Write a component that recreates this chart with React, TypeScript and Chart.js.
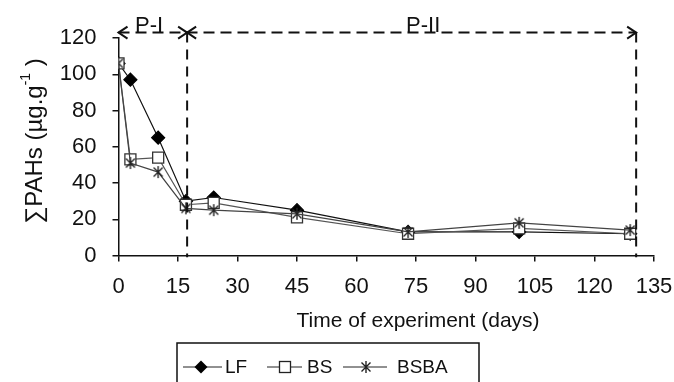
import React, { useEffect, useRef } from "react";
import { Chart, registerables } from "chart.js";

Chart.register(...registerables);

const DAYS = [0, 3, 10, 17, 24, 45, 73, 101, 129];
const LF = [106, 97, 65, 30, 32, 25, 13, 13, 12];
const BS = [106, 53, 54, 28, 29, 21, 12, 15, 12];
const BSBA = [106, 51, 46, 26, 25, 23, 13, 18, 14];
const SERIES_NAMES = ["LF", "BS", "BSBA"];
const X_TICK_STEP = 15;
const Y_TICK_STEP = 20;
const PHASE_BOUNDS = [0, 17.3, 130.5];
const PHASE_LABELS = ["P-I", "P-II"];
const PHASE_LABEL_X = [7.7, 76.8];
const ARROW_LEVEL = 123;
const X_TITLE = "Time of experiment (days)";

const FONT = "'Liberation Sans', Arial, Helvetica, sans-serif";

function makeStar(size: number, color: string): HTMLCanvasElement {
  const c = document.createElement("canvas");
  c.width = size;
  c.height = size;
  const g = c.getContext("2d")!;
  g.strokeStyle = color;
  g.lineWidth = 1.4;
  const m = size / 2;
  const r = size / 2 - 1;
  const d = r * 0.75;
  g.beginPath();
  g.moveTo(m - d, m - d);
  g.lineTo(m + d, m + d);
  g.moveTo(m + d, m - d);
  g.lineTo(m - d, m + d);
  g.moveTo(m, m - r);
  g.lineTo(m, m + r);
  g.stroke();
  return c;
}

export default function App() {
  const ref = useRef<HTMLCanvasElement | null>(null);

  useEffect(() => {
    const canvas = ref.current!;
    const star = makeStar(14, "#222");

    const overlay = {
      id: "overlay",
      afterDraw(chart: any) {
        const { ctx, scales } = chart;
        const x = scales.x;
        const y = scales.y;
        ctx.save();
        // phase dashed lines
        ctx.strokeStyle = "#111";
        ctx.lineWidth = 2;
        ctx.setLineDash([11, 6]);
        const ya = y.getPixelForValue(ARROW_LEVEL);
        const yb = y.getPixelForValue(-1);
        const px = PHASE_BOUNDS.map((v) => x.getPixelForValue(v));
        ctx.beginPath();
        ctx.moveTo(px[0], ya);
        ctx.lineTo(px[2], ya);
        ctx.stroke();
        ctx.setLineDash([10, 7]);
        for (let i = 1; i < px.length; i++) {
          ctx.beginPath();
          ctx.moveTo(px[i], ya);
          ctx.lineTo(px[i], yb);
          ctx.stroke();
        }
        ctx.setLineDash([]);
        const head = (tip: number, dir: number) => {
          ctx.beginPath();
          ctx.moveTo(tip - dir * 9, ya - 6);
          ctx.lineTo(tip, ya);
          ctx.lineTo(tip - dir * 9, ya + 6);
          ctx.stroke();
        };
        head(px[0], -1);
        head(px[1], 1);
        head(px[1], -1);
        head(px[2], 1);
        // phase labels
        ctx.fillStyle = "#111";
        ctx.font = `22px ${FONT}`;
        ctx.textAlign = "center";
        ctx.textBaseline = "alphabetic";
        PHASE_LABELS.forEach((t, i) => {
          ctx.fillText(t, x.getPixelForValue(PHASE_LABEL_X[i]), ya - 1);
        });
        // x title
        ctx.font = `21px ${FONT}`;
        ctx.textBaseline = "alphabetic";
        ctx.fillText(X_TITLE, 418, 327);
        // y title
        ctx.save();
        ctx.translate(35, 141);
        ctx.rotate(-Math.PI / 2);
        const big = `24px ${FONT}`;
        const small = `14px ${FONT}`;
        const parts: [string, string, number][] = [
          ["\u2211PAHs (\u00b5g.g", big, 0],
          ["-1", small, -9],
          [" )", big, 0],
        ];
        let total = 0;
        parts.forEach(([t, f]) => {
          ctx.font = f;
          total += ctx.measureText(t).width;
        });
        let cx = -total / 2;
        ctx.textAlign = "left";
        ctx.textBaseline = "middle";
        parts.forEach(([t, f, dy]) => {
          ctx.font = f;
          ctx.fillText(t, cx, dy);
          cx += ctx.measureText(t).width;
        });
        ctx.restore();
        // legend
        ctx.strokeStyle = "#111";
        ctx.lineWidth = 1.5;
        ctx.strokeRect(177, 343, 302, 60);
        const ly = 367;
        ctx.lineWidth = 1;
        ctx.font = `19px ${FONT}`;
        ctx.textAlign = "left";
        ctx.textBaseline = "middle";
        const items = [
          { x1: 183, x2: 222, mx: 201, tx: 225 },
          { x1: 267, x2: 302, mx: 285, tx: 307 },
          { x1: 343, x2: 387, mx: 366, tx: 397 },
        ];
        items.forEach((it, i) => {
          ctx.strokeStyle = "#222";
          ctx.beginPath();
          ctx.moveTo(it.x1, ly);
          ctx.lineTo(it.x2, ly);
          ctx.stroke();
          if (i === 0) {
            ctx.fillStyle = "#000";
            ctx.beginPath();
            ctx.moveTo(it.mx, ly - 6.5);
            ctx.lineTo(it.mx + 6.5, ly);
            ctx.lineTo(it.mx, ly + 6.5);
            ctx.lineTo(it.mx - 6.5, ly);
            ctx.closePath();
            ctx.fill();
          } else if (i === 1) {
            ctx.fillStyle = "#fff";
            ctx.fillRect(it.mx - 5.5, ly - 5.5, 11, 11);
            ctx.lineWidth = 1.3;
            ctx.strokeRect(it.mx - 5.5, ly - 5.5, 11, 11);
            ctx.lineWidth = 1;
          } else {
            ctx.drawImage(star, it.mx - 7, ly - 7);
          }
          ctx.fillStyle = "#111";
          ctx.fillText(SERIES_NAMES[i], it.tx, ly + 1);
        });
        ctx.restore();
      },
    };

    const tickFont = { family: FONT, size: 22 };

    const chart = new Chart(canvas, {
      type: "line",
      data: {
        labels: DAYS,
        datasets: [
          {
            label: SERIES_NAMES[0],
            data: DAYS.map((d, i) => ({ x: d, y: LF[i] })),
            borderColor: "#111",
            borderWidth: 1.2,
            pointStyle: "rectRot",
            pointRadius: 6.5,
            pointBackgroundColor: "#000",
            pointBorderColor: "#000",
            order: 3,
          },
          {
            label: SERIES_NAMES[1],
            data: DAYS.map((d, i) => ({ x: d, y: BS[i] })),
            borderColor: "#555",
            borderWidth: 1.2,
            pointStyle: "rect",
            pointRadius: 7.8,
            pointBackgroundColor: "#fff",
            pointBorderColor: "#333",
            pointBorderWidth: 1.3,
            order: 2,
          },
          {
            label: SERIES_NAMES[2],
            data: DAYS.map((d, i) => ({ x: d, y: BSBA[i] })),
            borderColor: "#444",
            borderWidth: 1.2,
            pointStyle: star as any,
            pointRadius: 7,
            order: 1,
          },
        ],
      },
      options: {
        responsive: false,
        animation: false,
        events: [],
        layout: { padding: { top: 38, right: 20, left: 0, bottom: 0 } },
        plugins: {
          legend: { display: false },
          tooltip: { enabled: false },
        },
        scales: {
          x: {
            type: "linear",
            min: 0,
            max: 135,
            ticks: { stepSize: X_TICK_STEP, font: tickFont, color: "#111", padding: 12, maxRotation: 0 },
            grid: { drawOnChartArea: false, drawTicks: true, tickLength: 6, color: "#111", lineWidth: 1.5 },
            border: { color: "#111", width: 1.5 },
            afterFit: (s: any) => {
              s.height = 126.5;
              s.paddingRight = 0;
              s.paddingLeft = 0;
            },
          },
          y: {
            min: 0,
            max: 120,
            ticks: { stepSize: Y_TICK_STEP, font: tickFont, color: "#111", padding: 16 },
            grid: { drawOnChartArea: false, drawTicks: true, tickLength: 6, color: "#111", lineWidth: 1.5 },
            border: { color: "#111", width: 1.5 },
            afterFit: (s: any) => {
              s.width = 118.5;
              s.paddingTop = 0;
              s.paddingBottom = 0;
            },
          },
        },
      },
      plugins: [overlay],
    });

    return () => chart.destroy();
  }, []);

  return (
    <div style={{ position: "fixed", left: 0, top: 0, width: 674, height: 382, background: "#fff" }}>
      <canvas ref={ref} width={674} height={382} style={{ width: 674, height: 382, display: "block" }} />
    </div>
  );
}
